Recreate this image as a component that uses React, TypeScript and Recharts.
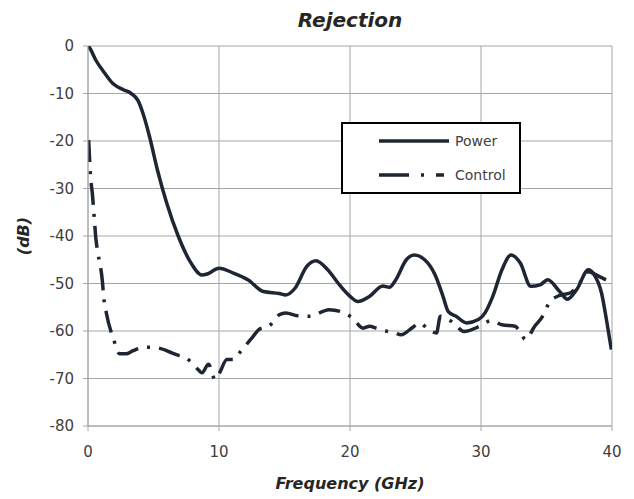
import { CartesianGrid, Label, Line, LineChart, XAxis, YAxis } from "recharts";

// Frequency (GHz) / rejection (dB).
const powerFreq = [
  0, 0.1, 0.6, 1.3, 1.9, 2.7, 3.3, 3.8, 4.2, 4.7, 5.3, 6.0, 6.9, 7.8, 8.7,
  9.1, 10.0, 11.1, 12.2, 13.4, 14.6, 15.1, 15.8, 16.7, 17.4, 18.3, 19.2, 20.0,
  20.6, 21.5, 22.5, 23.0, 23.5, 24.3, 24.9, 25.7, 26.5, 27.1, 27.5, 28.1,
  28.9, 29.8, 30.3, 30.9, 31.6, 32.3, 33.0, 33.8, 34.5, 35.1, 36.0, 36.6,
  37.3, 38.2, 38.6, 39.2, 39.6, 39.95,
];
const powerDb = [
  0, -0.3, -3, -5.8, -7.9, -9.2, -10, -11.4, -14.2, -19.1, -26.1, -33, -40.1,
  -45.4, -48.2, -48, -46.8, -47.8, -49.2, -51.7, -52.1, -52.4, -51, -46.4,
  -45.2, -47.1, -50.3, -52.7, -53.8, -52.7, -50.5, -50.8, -49.2, -45, -44,
  -45, -48.2, -52.7, -55.9, -56.9, -58.3, -57.6, -56.2, -52.7, -47.1, -44,
  -45.7, -50.6, -50.3, -49.2, -51.7, -53.3, -51.3, -47.1, -48, -52, -58,
  -63.9,
];

const controlFreq = [
  0.05, 0.13, 0.2, 0.33, 0.5, 0.6, 0.76, 1.1, 1.2, 1.4, 1.96, 2.4, 2.9, 3.4,
  3.95, 4.6, 5.4, 6.4, 6.85, 7.5, 8.4, 8.7, 9.2, 9.7, 10.05, 10.6, 11.1, 11.5,
  12.5, 13.1, 13.8, 14.6, 15.1, 16.0, 16.9, 18.4, 19.4, 20.2, 21.0, 21.5,
  22.0, 22.9, 23.4, 23.9, 24.8, 25.3, 26.0, 26.6, 26.9, 27.9, 28.7, 29.9,
  30.8, 31.6, 32.6, 33.0, 33.4, 34.1, 34.7, 35.2, 36.0, 36.8, 37.5, 38.2,
  39.0, 39.8,
];
const controlDb = [
  -19.8, -24.4, -27.7, -31, -37, -40.5, -43.6, -49.6, -52.9, -56.2, -61.8,
  -64.8, -64.8, -64.2, -63.6, -63.4, -63.6, -64.6, -65.1, -65.7, -68.1, -68.8,
  -67, -70.2, -68.8, -66, -66, -64.8, -61.5, -59.6, -59, -56.6, -56.2, -56.8,
  -56.9, -55.5, -56, -57.3, -59.4, -59, -59.4, -60.1, -60.4, -60.8, -59.2,
  -58.3, -59.7, -60.4, -56.9, -58.3, -60.1, -59, -57.8, -58.7, -59, -60.3,
  -61.8, -59, -56.9, -54.1, -52.5, -52, -50, -47.5, -48.5, -49.6,
];

const xTicks = [0, 10, 20, 30, 40];
const yTicks = [-80, -70, -60, -50, -40, -30, -20, -10, 0];

const LINE = "#1e2633";
const GRID = "#a6a6a6";
const FONT = "'DejaVu Sans', sans-serif";
const CONTROL_DASH = "22 9 3 9";

const toPoints = (xs: number[], ys: number[]) =>
  xs.map((f, i) => ({ f, v: ys[i] }));

const powerData = toPoints(powerFreq, powerDb);
const controlData = toPoints(controlFreq, controlDb);

function LegendBox() {
  const row = (dash: string | undefined, text: string) => (
    <div style={{ display: "flex", alignItems: "center", height: 34 }}>
      <svg width={74} height={8} style={{ marginLeft: 34 }}>
        <line
          x1={2}
          y1={4}
          x2={72}
          y2={4}
          stroke={LINE}
          strokeWidth={3.5}
          strokeDasharray={dash}
        />
      </svg>
      <span style={{ marginLeft: 4, fontSize: 14, color: "#404040" }}>
        {text}
      </span>
    </div>
  );

  return (
    <div
      style={{
        position: "absolute",
        left: 341,
        top: 122,
        width: 176,
        height: 68,
        border: "2px solid #000",
        background: "#fff",
        fontFamily: FONT,
      }}
    >
      {row(undefined, "Power")}
      {row("30 12 3 12 8", "Control")}
    </div>
  );
}

export default function App() {
  return (
    <div style={{ position: "relative", width: 634, height: 499 }}>
      <style>{"body{margin:0}"}</style>
      <div
        style={{
          position: "absolute",
          top: 8,
          left: 88,
          width: 524,
          textAlign: "center",
          fontFamily: FONT,
          fontSize: 20,
          fontWeight: "bold",
          fontStyle: "italic",
          color: "#262626",
        }}
      >
        Rejection
      </div>
      <LineChart
        width={634}
        height={499}
        margin={{ top: 46, right: 22, bottom: 43, left: 28 }}
      >
        <CartesianGrid stroke={GRID} />
        <XAxis
          type="number"
          dataKey="f"
          domain={[0, 40]}
          ticks={xTicks}
          allowDataOverflow
          height={30}
          stroke={GRID}
          tickSize={5}
          tick={{ fill: "#404040", fontSize: 15, fontFamily: FONT, dy: 13 }}
        >
          <Label
            value="Frequency (GHz)"
            position="bottom"
            offset={22}
            style={{
              fill: "#262626",
              fontSize: 16,
              fontWeight: "bold",
              fontStyle: "italic",
              fontFamily: FONT,
            }}
          />
        </XAxis>
        <YAxis
          type="number"
          domain={[-80, 0]}
          ticks={yTicks}
          allowDataOverflow
          width={60}
          stroke={GRID}
          tickSize={5}
          tick={{ fill: "#404040", fontSize: 15, fontFamily: FONT, dx: -7 }}
        >
          <Label
            content={() => (
              <text
                x={23}
                y={236}
                transform="rotate(-90 23 236)"
                textAnchor="middle"
                dominantBaseline="central"
                fill="#262626"
                fontSize={16}
                fontWeight="bold"
                fontStyle="italic"
                fontFamily={FONT}
              >
                (dB)
              </text>
            )}
          />
        </YAxis>
        <Line
          data={powerData}
          dataKey="v"
          type="monotone"
          stroke={LINE}
          strokeWidth={3.5}
          dot={false}
          isAnimationActive={false}
        />
        <Line
          data={controlData}
          dataKey="v"
          type="monotone"
          stroke={LINE}
          strokeWidth={3.5}
          strokeDasharray={CONTROL_DASH}
          dot={false}
          isAnimationActive={false}
        />
      </LineChart>
      <LegendBox />
    </div>
  );
}
